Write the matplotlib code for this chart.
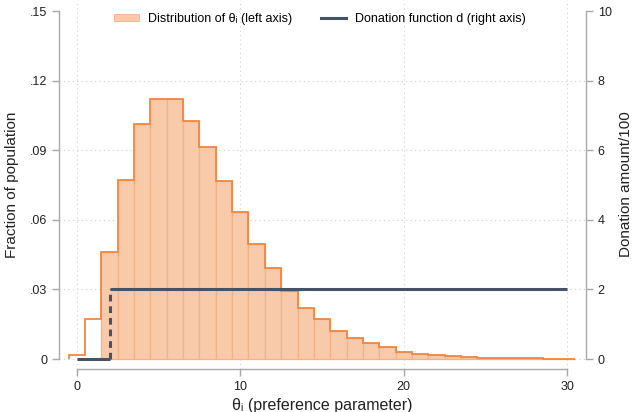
import matplotlib
matplotlib.use("Agg")
import matplotlib.pyplot as plt
from matplotlib.patches import Patch
from matplotlib.lines import Line2D
import numpy as np

plt.rcParams['font.family'] = ['Liberation Sans', 'DejaVu Sans']

# Histogram of the preference parameter (bins of width 1 centred on integers)
theta_bins = list(range(0, 31))
fraction = [0.0019, 0.0172, 0.0463, 0.0773, 0.1013, 0.1119, 0.1121, 0.1026,
            0.0915, 0.0767, 0.0635, 0.0497, 0.0391, 0.0292, 0.0221, 0.0171,
            0.0121, 0.0089, 0.0069, 0.0052, 0.0030, 0.0023, 0.0017, 0.0011,
            0.0009, 0.0006, 0.0004, 0.0003, 0.0003, 0.0002, 0.0001]
first_donor_bin = 2

# Donation function d(theta), in hundreds
donation_threshold = 2.0
donation_low = 0.0
donation_high = 2.0
theta_min, theta_max = 0, 30

left_ticks = [0, 0.03, 0.06, 0.09, 0.12, 0.15]
left_labels = ['0', '.03', '.06', '.09', '.12', '.15']
right_ticks = [0, 2, 4, 6, 8, 10]
x_ticks = [0, 10, 20, 30]

fill_c = '#F8CAAA'
inner_edge = '#F4B086'
outline_c = '#EE8844'
line_c = '#465366'
axis_c = '#A8A8A8'
grid_c = '#CFCFCF'
text_c = '#222222'

fig = plt.figure(figsize=(6.33, 4.12), dpi=100)
ax = fig.add_axes([0, 0, 1, 1])
# vertical placement: y=0 at pixel 359, y=.15 at pixel 11, x-axis line at 369
px_per_unit = (359 - 11) / 0.15
y_bottom_px = 369
ax_top_px = 0
ylo = -(y_bottom_px - 359) / px_per_unit
yhi = 0.15 + (11 - ax_top_px) / px_per_unit
ax.set_position([59 / 633, (412 - y_bottom_px) / 412, (586 - 59) / 633,
                 (y_bottom_px - ax_top_px) / 412])
ax.set_ylim(ylo, yhi)
ax.set_xlim(-1.1, 31.16)

centers = np.array(theta_bins, dtype=float)
heights = np.array(fraction)
edges = np.append(centers - 0.5, centers[-1] + 0.5)

# gridlines
for yt in left_ticks[:-1]:
    ax.axhline(yt, color=grid_c, lw=0.8, ls=(0, (1, 3)), zorder=0)
for xt in x_ticks:
    ax.axvline(xt, color=grid_c, lw=0.8, ls=(0, (1, 3)), zorder=0)

ax.bar(centers[first_donor_bin:], heights[first_donor_bin:], width=1.0,
       color=fill_c, edgecolor=inner_edge, linewidth=0.9, zorder=2)
ax.stairs(heights, edges, color=outline_c, linewidth=1.3, baseline=0, zorder=3)

# donation function on the right axis
ax2 = ax.twinx()
scale = 10 / 0.15
ax2.set_ylim(ylo * scale, yhi * scale)
ax2.plot([theta_min, donation_threshold], [donation_low, donation_low],
         color=line_c, lw=2.2, solid_capstyle='butt', zorder=4)
ax2.plot([donation_threshold, donation_threshold], [donation_low, donation_high],
         color=line_c, lw=2.2, ls=(0, (2.2, 1.6)), zorder=4)
ax2.plot([donation_threshold, theta_max], [donation_high, donation_high],
         color=line_c, lw=2.2, solid_capstyle='butt', zorder=4)

for a in (ax, ax2):
    a.spines['top'].set_visible(False)
    for s in ('left', 'right', 'bottom'):
        a.spines[s].set_color(axis_c)
        a.spines[s].set_linewidth(1.0)
    a.tick_params(colors=axis_c, labelcolor=text_c, length=5, width=1.0,
                  labelsize=9)

ax.spines['right'].set_visible(False)
ax.spines['left'].set_bounds(0, 0.15)
ax.spines['bottom'].set_bounds(0, 30)
ax2.spines['left'].set_visible(False)
ax2.spines['bottom'].set_visible(False)
ax2.spines['right'].set_bounds(0, 10)

ax.set_yticks(left_ticks)
ax.set_yticklabels(left_labels)
ax.set_xticks(x_ticks)
ax.set_xticklabels([str(v) for v in x_ticks])
ax2.set_yticks(right_ticks)
ax2.set_yticklabels([str(v) for v in right_ticks])

ax.set_ylabel('Fraction of population', fontsize=11, color=text_c, labelpad=8)
ax2.set_ylabel('Donation amount/100', fontsize=11, color=text_c, labelpad=5)
ax.set_xlabel('θᵢ (preference parameter)', fontsize=11.5, color=text_c, labelpad=4)

handles = [Patch(facecolor=fill_c, edgecolor='#F4B086', linewidth=0.6),
           Line2D([0], [0], color=line_c, lw=2.2)]
labels = ['Distribution of θᵢ (left axis)', 'Donation function d (right axis)']
ax2.legend(handles, labels, loc='upper center', bbox_to_anchor=(0.495, 0.995),
           ncol=2, frameon=False, fontsize=9, handlelength=2.0,
           handleheight=0.55, columnspacing=2.3, handletextpad=0.75)

fig.savefig('out.png', dpi=100)
